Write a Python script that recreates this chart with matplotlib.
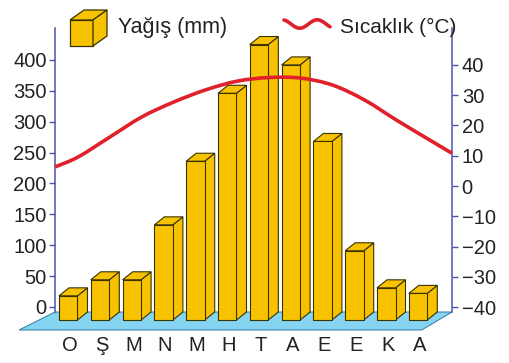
import numpy as np
import matplotlib
matplotlib.use("Agg")
import matplotlib.pyplot as plt
from matplotlib.patches import Polygon, PathPatch
from matplotlib.path import Path

# aylar (ocak..aralık)
months = ['O', 'Ş', 'M', 'N', 'M', 'H', 'T', 'A', 'E', 'E', 'K', 'A']
rain = [31, 57, 57, 146, 249, 359, 438, 405, 281, 104, 44, 35]        # mm
temp = [9.6, 16.2, 22.8, 27.7, 31.7, 34.6, 35.8, 35.6, 33.3, 28.4, 21.8, 15.5]  # °C
temp_start = 6.3   # eğrinin sol kenardaki değeri
temp_end = 10.8    # eğrinin sağ kenardaki değeri
rain_ticks = list(range(0, 401, 50))
temp_ticks = list(range(-40, 41, 10))

W, H = 510, 363
BAR = '#f7c300'
EDGE = '#3a3200'
AXC = '#4a55a8'
TXT = '#222222'
plt.rcParams['font.family'] = ['Liberation Sans', 'DejaVu Sans']

fig = plt.figure(figsize=(W / 100, H / 100), dpi=100)
ax = fig.add_axes([55 / W, 51 / H, 397 / W, 284 / H])
ax.set_xlim(-0.731, 11.753)
ax.set_ylim(-8.1, 451.8)

# derinlik kaydırması (veri biriminde)
px_x = 397 / (11.753 + 0.731)
px_y = 284 / (451.8 + 8.1)
ddx = 10 / px_x
ddy = 8 / px_y
w = 18.5 / px_x
y0 = -8.1

# zemin
fl_front = (307 - 330) / px_y
floor = Polygon([(-0.731, y0), (11.753, y0),
                 ((421.7 - 78.25) / px_x, fl_front), ((19 - 78.25) / px_x, fl_front)],
                closed=True, facecolor='#84d4f2', edgecolor='#2f7aa0', lw=0.7,
                clip_on=False, zorder=1)
ax.add_patch(floor)

# 3 boyutlu çubuklar
for i, v in enumerate(rain):
    bl, br = i - w / 2, i + w / 2
    fl, fr = bl - ddx, br - ddx
    top_f = v - ddy
    bot_f = y0 - ddy
    faces = [
        [(fr, bot_f), (br, y0), (br, v), (fr, top_f)],          # yan
        [(fl, top_f), (fr, top_f), (br, v), (bl, v)],           # üst
        [(fl, bot_f), (fr, bot_f), (fr, top_f), (fl, top_f)],   # ön
    ]
    for f in faces:
        ax.add_patch(Polygon(f, closed=True, facecolor=BAR, edgecolor=EDGE,
                             lw=0.8, clip_on=False, zorder=3))

for i, m in enumerate(months):
    ax.text(i - 0.27, (307 - 346) / px_y, m, ha='center', va='center',
            fontsize=14.5, color=TXT)

ax.set_xticks([])
ax.set_yticks(rain_ticks)
ax.tick_params(axis='y', direction='out', length=4, width=1, color=AXC,
               labelsize=14.5, labelcolor=TXT, pad=2)
for s in ['top', 'bottom', 'right']:
    ax.spines[s].set_visible(False)
ax.spines['left'].set_color(AXC)
ax.spines['left'].set_linewidth(1.1)
ax.patch.set_visible(False)

# sıcaklık ekseni
ax2 = ax.twinx()
ax2.set_ylim((186 - 312) / 3.03, (186 - 28) / 3.03)
ax2.set_yticks(temp_ticks)
ax2.tick_params(axis='y', direction='out', length=4, width=1, color=AXC,
                labelsize=14.5, labelcolor=TXT, pad=3)
for s in ['top', 'bottom', 'left']:
    ax2.spines[s].set_visible(False)
ax2.spines['right'].set_color(AXC)
ax2.spines['right'].set_linewidth(1.1)

# yumuşak eğri (Catmull-Rom -> Bezier)
xs = [ax.get_xlim()[0]] + list(range(len(temp))) + [ax.get_xlim()[1]]
ys = [temp_start] + temp + [temp_end]
P = np.column_stack([xs, ys])
verts = [P[0]]
codes = [Path.MOVETO]
n = len(P)
for k in range(n - 1):
    p0 = P[max(k - 1, 0)]
    p1 = P[k]
    p2 = P[k + 1]
    p3 = P[min(k + 2, n - 1)]
    verts += [p1 + (p2 - p0) / 6, p2 - (p3 - p1) / 6, p2]
    codes += [Path.CURVE4] * 3
ax2.add_patch(PathPatch(Path(verts, codes), facecolor='none', edgecolor='#e0202a',
                        lw=2.6, clip_on=False, zorder=5))

# lejant
lax = fig.add_axes([0, 0, 1, 1])
lax.set_xlim(0, W)
lax.set_ylim(H, 0)
lax.axis('off')
lax.patch.set_visible(False)
for f in [[(70, 20), (93, 20), (93, 46), (70, 46)],
          [(70, 20), (93, 20), (107, 10), (84, 10)],
          [(93, 20), (107, 10), (107, 36), (93, 46)]]:
    lax.add_patch(Polygon(f, closed=True, facecolor=BAR, edgecolor=EDGE, lw=0.9))
lax.text(118, 27, 'Yağış (mm)', ha='left', va='center', fontsize=15.5, color=TXT)
wx = np.linspace(284, 330, 60)
wy = 24 + 4.2 * np.sin(2 * np.pi * (wx - 291) / 35)
lax.plot(wx, wy, color='#e0202a', lw=2.6, solid_capstyle='round')
lax.text(340, 27, 'Sıcaklık (°C)', ha='left', va='center', fontsize=15, color=TXT)

fig.savefig('out.png', dpi=100)
